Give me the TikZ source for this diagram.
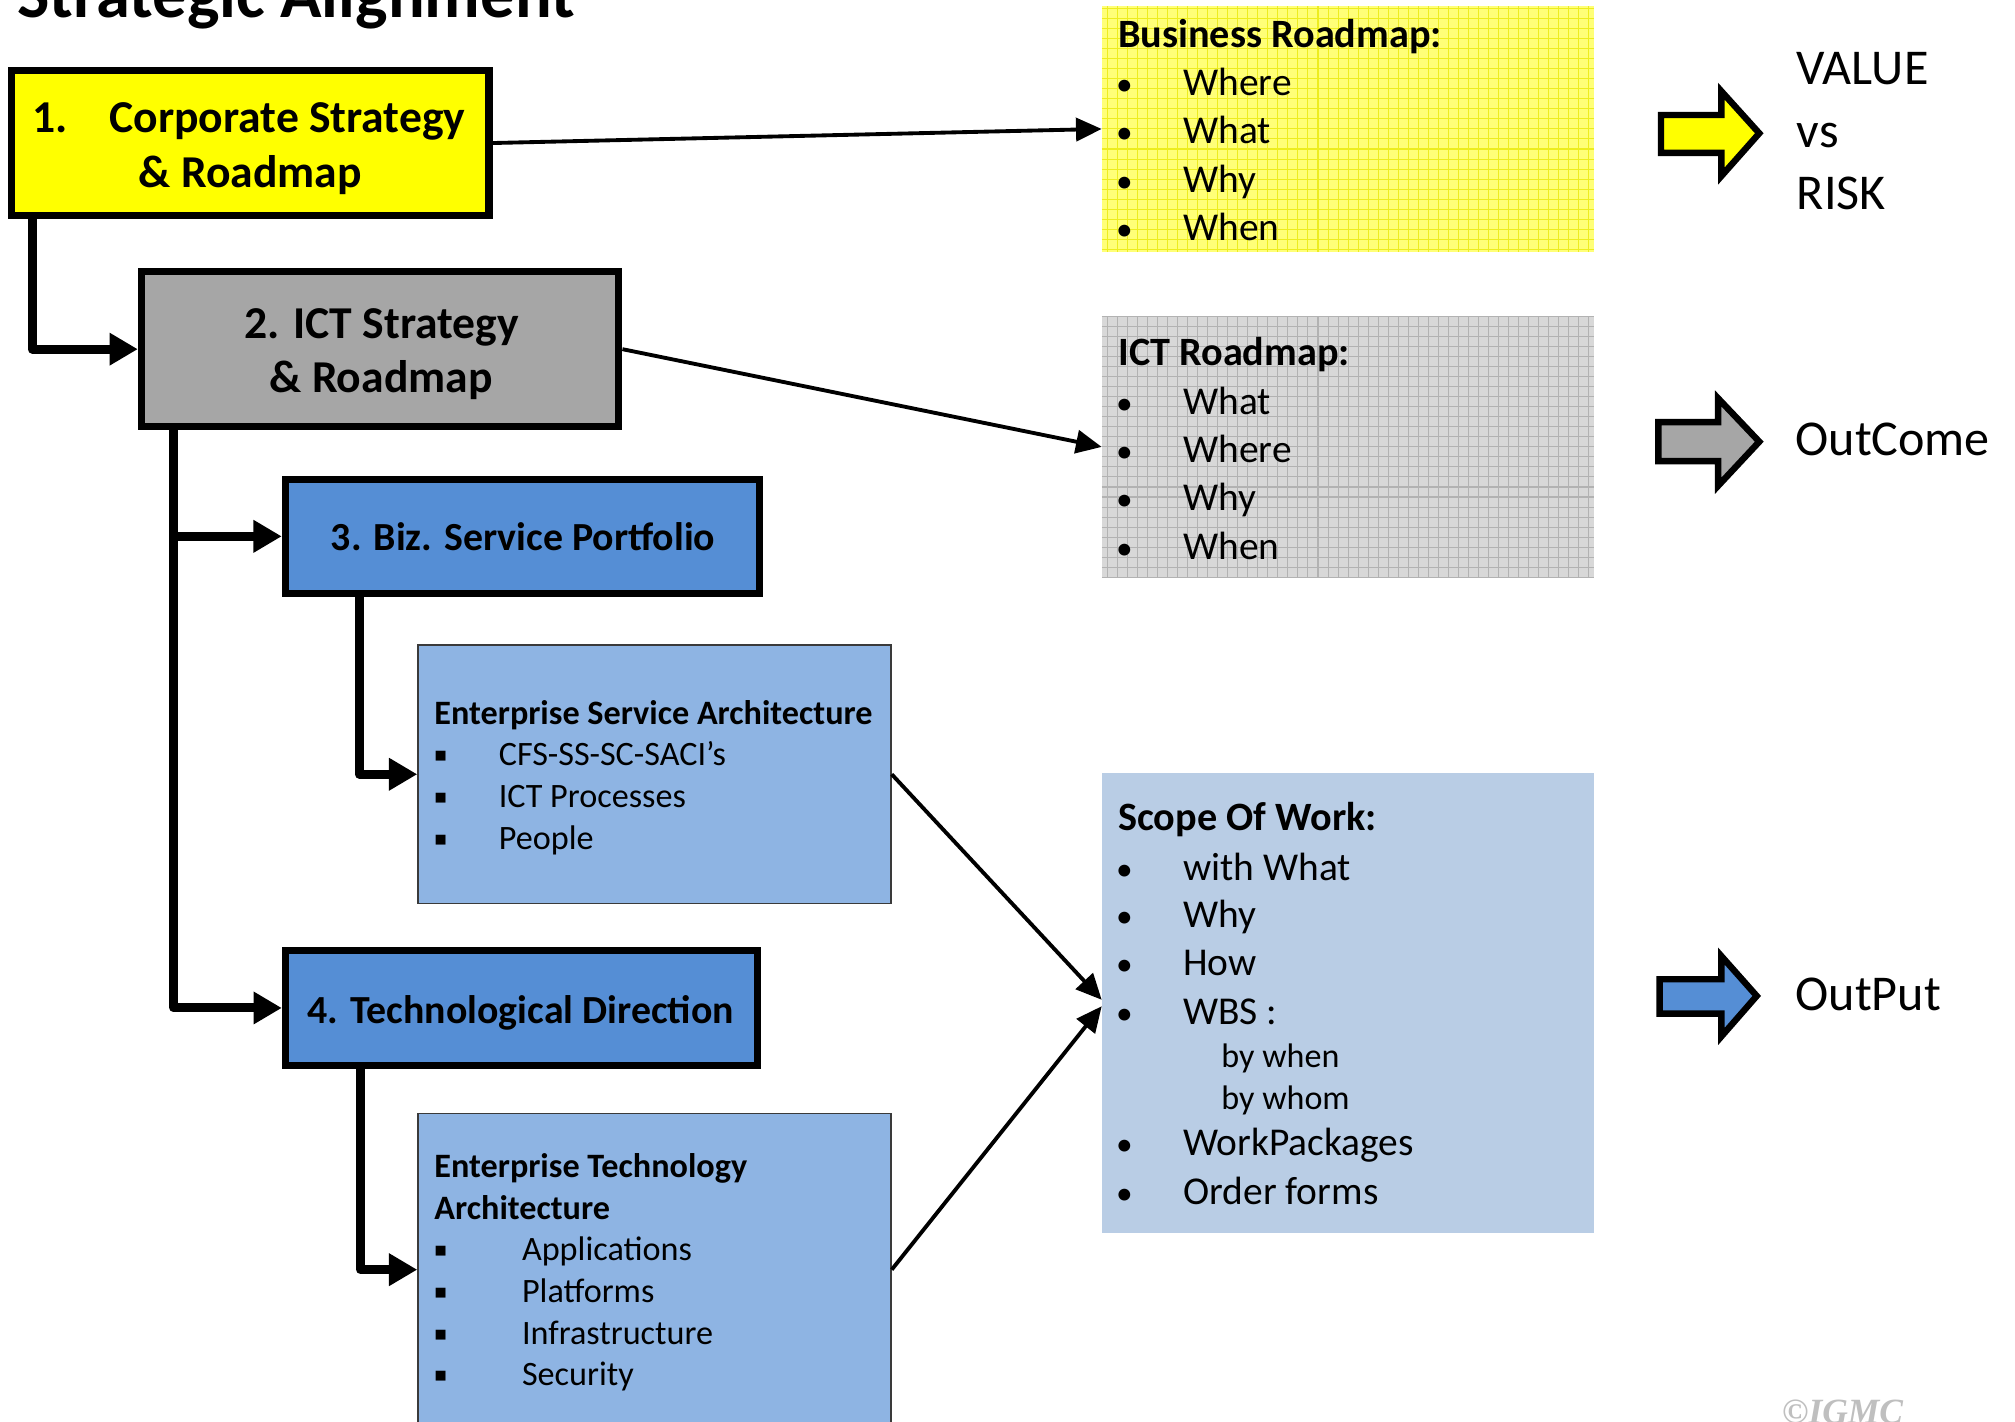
\documentclass[tikz,border=0pt]{standalone}
\usepackage{fontspec}
\setmainfont{Carlito}
\newfontfamily\squarefont{DejaVu Sans}
\newfontfamily\markfont{Liberation Serif}
\usetikzlibrary{arrows.meta}

\definecolor{corpyellow}{HTML}{FFFF00}
\definecolor{ictgray}{HTML}{A6A6A6}
\definecolor{svcblue}{HTML}{558ED5}
\definecolor{archblue}{HTML}{8EB4E3}
\definecolor{archedge}{HTML}{3A3A3A}
\definecolor{scopeblue}{HTML}{B9CDE5}
\definecolor{bizpaper}{HTML}{FFFF78}
\definecolor{bizgrid}{HTML}{EDED20}
\definecolor{ictpaper}{HTML}{D8D8D8}
\definecolor{ictgrid}{HTML}{B2B2B2}
\definecolor{markgray}{HTML}{BFBFBF}

\newcommand\setfs[1]{\fontsize{#1}{#1}\selectfont}

\tikzset{
  stratbox/.style={draw=black, line width=5.5pt, inner sep=0pt, rectangle},
  archbox/.style={draw=archedge, line width=1.4pt, fill=archblue, inner sep=0pt, rectangle},
  mapbox/.style={inner sep=0pt, rectangle},
  txt/.style={inner sep=0pt, anchor=base west, yshift=-2pt},
  bul/.style={inner sep=0pt, anchor=base, yshift=-2pt, font=\setfs{26}},
  sq/.style={inner sep=0pt, anchor=center, yshift=-2pt, font=\squarefont\setfs{10}},
  conn/.style={line width=7pt, line join=round, -{Triangle[length=22pt,width=24pt]}},
  link/.style={line width=3pt, -{Triangle[length=20pt,width=18pt]}},
  blockarrow/.style={draw=black, line width=5pt, line join=miter},
  boxhead/.style={font=\setfs{35.5}\bfseries},
  subhead/.style={font=\setfs{31}\bfseries},
  maphead/.style={font=\setfs{31.3}\bfseries},
  mapitem/.style={font=\setfs{30.7}},
  archhead/.style={font=\setfs{26.6}\bfseries},
  architem/.style={font=\setfs{26.6}},
  biglabel/.style={font=\setfs{39}},
}

\begin{document}
\begin{tikzpicture}[x=1pt, y=-1pt]
\useasboundingbox (0,0) rectangle (1568,1106);
\fill[white] (0,0) rectangle (1568,1106);

% title
\node[txt, font=\setfs{53.3}\bfseries] (title) at (13.4,12) {Strategic Alignment};

% strategy hierarchy
\node[stratbox, fill=corpyellow, minimum width=371.5pt, minimum height=113.4pt] (corp) at (194.75,111.3) {};
\node[stratbox, fill=ictgray, minimum width=371.6pt, minimum height=120.4pt] (ict) at (295.8,271.7) {};
\node[stratbox, fill=svcblue, minimum width=368.8pt, minimum height=88.3pt] (svc) at (406.4,417.35) {};
\node[stratbox, fill=svcblue, minimum width=367.7pt, minimum height=90.1pt] (tech) at (405.9,784.35) {};
\node[archbox, minimum width=367.8pt, minimum height=201pt] (esa) at (509.3,602.5) {};
\node[archbox, minimum width=367.8pt, minimum height=243.2pt] (eta) at (509.3,988) {};

\node[txt, boxhead] (corpnum) at (25,101.2) {1.};
\node[txt, boxhead] (corpa) at (85,101.2) {Corporate Strategy};
\node[txt, boxhead] (corpb) at (107.7,144) {\& Roadmap};
\node[txt, boxhead] (icta) at (189.8,261.5) {2. ICT Strategy};
\node[txt, boxhead] (ictb) at (209.6,303.5) {\& Roadmap};
\node[txt, subhead] (svct) at (257.3,426.7) {3. Biz. Service Portfolio};
\node[txt, subhead] (techt) at (239.2,794.3) {4. Technological Direction};

% enterprise service architecture
\node[txt, archhead] (esah) at (337.9,561.6) {Enterprise Service Architecture};
\node[sq] (esas1) at (343,586.5) {■};
\node[sq] (esas2) at (343,619) {■};
\node[sq] (esas3) at (343,651.5) {■};
\node[txt, architem] (esa1) at (388,594) {CFS-SS-SC-SACI’s};
\node[txt, architem] (esa2) at (388,626.5) {ICT Processes};
\node[txt, architem] (esa3) at (388,659) {People};

% enterprise technology architecture
\node[txt, archhead] (etah1) at (337.9,914.4) {Enterprise Technology};
\node[txt, archhead] (etah2) at (337.9,946.8) {Architecture};
\node[sq] (etas1) at (343,971.7) {■};
\node[sq] (etas2) at (343,1004.2) {■};
\node[sq] (etas3) at (343,1036.6) {■};
\node[sq] (etas4) at (343,1068.5) {■};
\node[txt, architem] (eta1) at (406,979.2) {Applications};
\node[txt, architem] (eta2) at (406,1011.7) {Platforms};
\node[txt, architem] (eta3) at (406,1044.1) {Infrastructure};
\node[txt, architem] (eta4) at (406,1076) {Security};

% roadmap and scope panels
\node[mapbox, fill=bizpaper, minimum width=383pt, minimum height=191.3pt,
  path picture={\draw[bizgrid, line width=0.8pt, step=7.8pt]
    (path picture bounding box.south west) grid (path picture bounding box.north east);}]
  (biz) at (1049,100.35) {};
\node[mapbox, fill=ictpaper, minimum width=383pt, minimum height=203.5pt,
  path picture={\draw[ictgrid, line width=0.8pt, step=7.8pt]
    (path picture bounding box.south west) grid (path picture bounding box.north east);}]
  (ictmap) at (1049,347.75) {};
\node[mapbox, fill=scopeblue, minimum width=383pt, minimum height=357.9pt] (scope) at (1049,780.75) {};

\node[txt, maphead] (bizh) at (870,35) {Business Roadmap:};
\foreach \t/\y [count=\i] in {Where/72.6, What/110, Why/148, When/185}{
  \node[bul] (bizb\i) at (875,\y) {•};
  \node[txt, mapitem] (bizi\i) at (920.6,\y) {\t};
}

\node[txt, maphead] (ictmh) at (870,282.7) {ICT Roadmap:};
\foreach \t/\y [count=\i] in {What/320.4, Where/358, Why/395.5, When/433}{
  \node[bul] (ictmb\i) at (875,\y) {•};
  \node[txt, mapitem] (ictmi\i) at (920.6,\y) {\t};
}

\node[txt, maphead] (scopeh) at (870,644.6) {Scope Of Work:};
\foreach \t/\y [count=\i] in {with What/683.5, Why/719.8, How/757.4, WBS :/795, WorkPackages/897.5, Order forms/935.2}{
  \node[bul] (scopeb\i) at (875,\y) {•};
  \node[txt, mapitem] (scopei\i) at (920.6,\y) {\t};
}
\node[txt, font=\setfs{26.5}] (scopew1) at (950.3,828.8) {by when};
\node[txt, font=\setfs{26.5}] (scopew2) at (950.3,861.2) {by whom};

% connectors
\draw[conn] ([xshift=19pt]corp.south west) |- (ict.west);
\draw[conn] ([xshift=28pt]ict.south west) |- (svc.west);
\draw[conn] ([xshift=28pt]ict.south west) |- (tech.west);
\draw[conn] ([xshift=60.6pt]svc.south west) |- (esa.west);
\draw[conn] ([xshift=61.3pt]tech.south west) |- (eta.west);

\draw[link] (corp.east) -- (biz.west);
\draw[link] (ict.east) -- (ictmap.west);
\draw[link] (esa.east) -- ([yshift=2.75pt]scope.west);
\draw[link] (eta.east) -- ([yshift=-2.25pt]scope.west);

% result arrows
\draw[blockarrow, fill=corpyellow] (1292.5,89.5) -- (1339.5,89.5) -- (1339.5,71) -- (1369,103.7)
  -- (1339.5,137) -- (1339.5,119) -- (1292.5,119) -- cycle;
\draw[blockarrow, fill=ictgray] (1290.5,328.5) -- (1337,328.5) -- (1337,310) -- (1369,343.7)
  -- (1337,378) -- (1337,358.8) -- (1290.5,358.8) -- cycle;
\draw[blockarrow, fill=svcblue] (1291.5,762) -- (1339.5,762) -- (1339.5,744) -- (1367,775)
  -- (1339.5,806.5) -- (1339.5,788.7) -- (1291.5,788.7) -- cycle;

\node[txt, biglabel] (value) at (1398,64) {VALUE};
\node[txt, biglabel] (vs) at (1398,112.5) {vs};
\node[txt, biglabel] (risk) at (1398,161) {RISK};
\node[txt, biglabel] (outcome) at (1397,352.8) {OutCome};
\node[txt, biglabel] (output) at (1397,784.7) {OutPut};

% copyright mark
\node[txt, text=markgray, font=\markfont\setfs{27.6}\bfseries\itshape] (mark) at (1386.5,1106) {©IGMC};
\end{tikzpicture}
\end{document}
